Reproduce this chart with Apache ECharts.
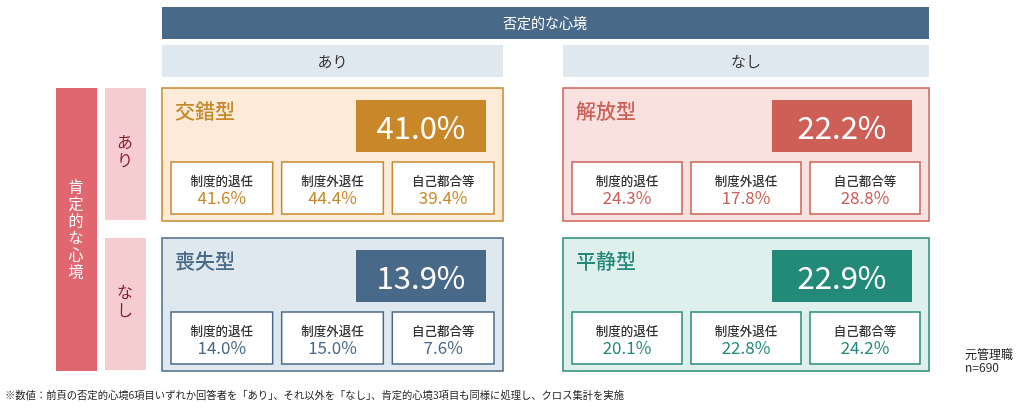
<!DOCTYPE html>
<html>
<head>
<meta charset="utf-8">
<script src="https://cdn.jsdelivr.net/npm/echarts@6/dist/echarts.min.js"></script>
<style>
  html, body { margin: 0; padding: 0; background: #fff; }
  #main { width: 1024px; height: 408px; }
</style>
</head>
<body>
<div id="main"></div>
<script>
// 否定的な心境（列） × 肯定的な心境（行）
var negCats = ['あり', 'なし'];
var posCats = ['あり', 'なし'];

// 4タイプ
var typeNames = ['交錯型', '解放型', '喪失型', '平静型'];
var typeNeg = [0, 1, 0, 1];
var typePos = [0, 0, 1, 1];
var totalPct = [41.0, 22.2, 13.9, 22.9];

// 退任理由別
var subLabels = ['制度的退任', '制度外退任', '自己都合等'];
var seidoPct = [41.6, 24.3, 14.0, 20.1];
var seidogaiPct = [44.4, 17.8, 15.0, 22.8];
var jikoPct = [39.4, 28.8, 7.6, 24.2];

var palette = [
  {main: '#c8882a', fill: '#fbebd8'},
  {main: '#cd5f56', fill: '#f8e1de'},
  {main: '#486a88', fill: '#dfe8ef'},
  {main: '#238a79', fill: '#dff0ec'}
];

var FONT = '"Noto Sans CJK JP", "Noto Sans", sans-serif';
var boxW = [341, 366];

var myChart = echarts.init(document.getElementById('main'), null, {renderer: 'canvas'});

var seriesData = typeNames.map(function (n, i) {
  return [typeNeg[i], typePos[i], totalPct[i], seidoPct[i], seidogaiPct[i], jikoPct[i], i];
});

function pct(v) { return v.toFixed(1) + '%'; }

function renderCell(params, api) {
  var xi = api.value(0), yi = api.value(1), idx = api.value(6);
  var c = api.coord([xi, yi]);
  var s = api.size([1, 1]);
  var cellL = c[0] - s[0] / 2, cellR = c[0] + s[0] / 2;
  var cellT = c[1] - s[1] / 2, cellB = c[1] + s[1] / 2;
  var bw = boxW[xi], bh = 133;
  var bx = xi === 0 ? cellL : cellR - bw;
  var by = yi === 0 ? cellT : cellB - bh;
  var col = palette[idx];
  var vals = [api.value(3), api.value(4), api.value(5)];
  var children = [];

  // 外枠
  children.push({type: 'rect', shape: {x: bx, y: by, width: bw, height: bh},
    style: {fill: col.fill, stroke: col.main, lineWidth: 1.5}});
  // タイプ名
  children.push({type: 'text', style: {x: bx + 13, y: by + 23, text: typeNames[idx],
    fill: col.main, font: '500 20px ' + FONT, verticalAlign: 'middle'}});
  // 全体の割合
  var pw = Math.round(bw * 0.382);
  var px = bx + bw - 17 - pw, py = by + 12;
  children.push({type: 'rect', shape: {x: px, y: py, width: pw, height: 52},
    style: {fill: col.main}});
  children.push({type: 'text', style: {x: px + pw / 2, y: py + 27, text: pct(api.value(2)),
    fill: '#fff', font: '400 31px ' + FONT, align: 'center', verticalAlign: 'middle'}});
  // 退任理由別
  var sw = (bw - 36) / 3, sy = by + bh - 7 - 52;
  for (var k = 0; k < 3; k++) {
    var sx = bx + 9 + k * (sw + 9);
    children.push({type: 'rect', shape: {x: sx, y: sy, width: sw, height: 52},
      style: {fill: '#fff', stroke: col.main, lineWidth: 1.5}});
    children.push({type: 'text', style: {x: sx + sw / 2, y: sy + 19, text: subLabels[k],
      fill: '#333', font: '500 12.5px ' + FONT, align: 'center', verticalAlign: 'middle'}});
    children.push({type: 'text', style: {x: sx + sw / 2, y: sy + 36, text: pct(vals[k]),
      fill: col.main, font: '400 17px ' + FONT, align: 'center', verticalAlign: 'middle'}});
  }

  // 列見出し
  if (yi === 0) {
    children.push({type: 'rect', shape: {x: bx, y: by - 43, width: bw, height: 32},
      style: {fill: '#dfe8ef'}});
    children.push({type: 'text', style: {x: bx + bw / 2, y: by - 27, text: negCats[xi],
      fill: '#333', font: '400 15px ' + FONT, align: 'center', verticalAlign: 'middle'}});
  }
  // 行見出し
  if (xi === 0) {
    children.push({type: 'rect', shape: {x: bx - 57, y: by, width: 41, height: bh - 1},
      style: {fill: '#f5cdd1'}});
    children.push({type: 'text', style: {x: bx - 37, y: by + bh / 2 - 4,
      text: posCats[yi].split('').join('\n'), lineHeight: 18,
      fill: '#8a1f2e', font: '400 16px ' + FONT, align: 'center', verticalAlign: 'middle'}});
  }
  return {type: 'group', children: children};
}

var option = {
  animation: false,
  grid: {left: 162, right: 95, top: 88, bottom: 37},
  xAxis: {type: 'category', data: negCats, show: false},
  yAxis: {type: 'category', data: posCats, inverse: true, show: false},
  graphic: [
    {type: 'rect', shape: {x: 162, y: 7, width: 767, height: 32}, style: {fill: '#486a88'}},
    {type: 'text', style: {x: 545, y: 23, text: '否定的な心境', fill: '#fff',
      font: '400 14px ' + FONT, align: 'center', verticalAlign: 'middle'}},
    {type: 'rect', shape: {x: 56, y: 88, width: 41, height: 283}, style: {fill: '#e0666f'}},
    {type: 'text', style: {x: 76, y: 229, text: '肯\n定\n的\nな\n心\n境', lineHeight: 17,
      fill: '#fff', font: '400 15px ' + FONT, align: 'center', verticalAlign: 'middle'}},
    {type: 'text', style: {x: 965, y: 361, text: '元管理職\nn=690', lineHeight: 13,
      fill: '#222', font: '400 12px ' + FONT, verticalAlign: 'middle'}},
    {type: 'text', style: {x: 5, y: 395,
      text: '※数値：前頁の否定的心境6項目いずれか回答者を「あり」、それ以外を「なし」、肯定的心境3項目も同様に処理し、クロス集計を実施',
      fill: '#222', font: '400 10.3px ' + FONT, verticalAlign: 'middle'}}
  ],
  series: [{
    type: 'custom',
    renderItem: renderCell,
    data: seriesData,
    silent: true
  }]
};

myChart.setOption(option);
</script>
</body>
</html>
